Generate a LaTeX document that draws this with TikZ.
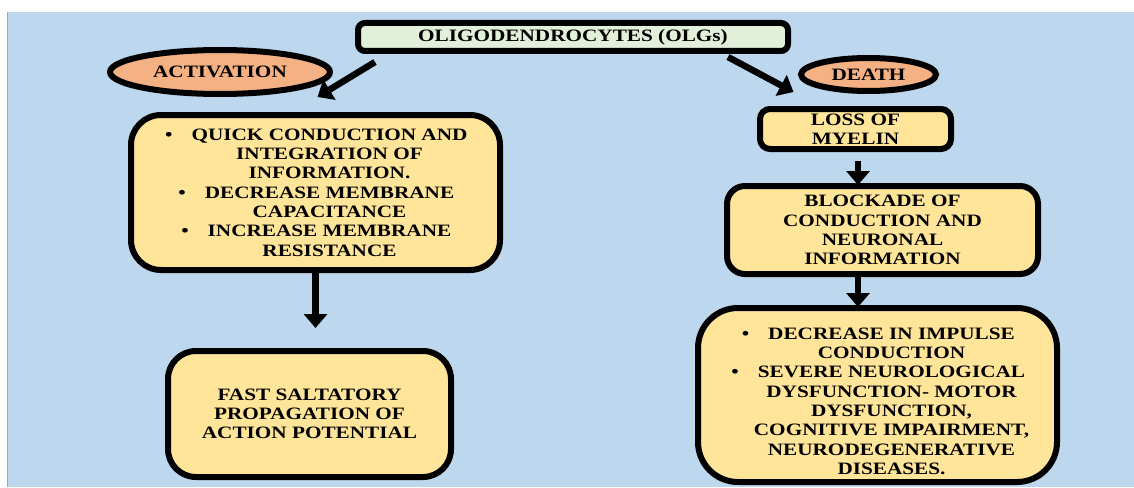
\documentclass[tikz,border=0pt]{standalone}
\usepackage{fontspec}
\setmainfont{Liberation Serif}[FakeStretch=1.22]
\usetikzlibrary{arrows.meta,shapes.geometric,calc}
\definecolor{bgblue}{HTML}{BDD7EE}
\definecolor{boxyellow}{HTML}{FFE599}
\definecolor{titlegreen}{HTML}{E2EFD9}
\definecolor{ovalorange}{HTML}{F4B183}
\newcommand{\ind}{\hspace*{28pt}}
\newcommand{\bul}{\hspace*{28pt}\llap{•\hspace{19pt}}}
\tikzset{
  every node/.style={font=\bfseries\fontsize{17.4}{19.3}\selectfont, align=center, inner sep=0pt},
  frame/.style={draw=black, line width=6pt},
  ybox/.style={frame, fill=boxyellow, rectangle},
  oval/.style={frame, fill=ovalorange, ellipse},
  arr/.style={line width=6.5pt, -{Triangle[width=23pt,length=14pt]}},
}
\begin{document}
\begin{tikzpicture}[x=1pt,y=-1pt]
\useasboundingbox (0,0) rectangle (1134,487);
\fill[white] (0,0) rectangle (1134,487);
\fill[bgblue] (7,12) rectangle (1134,487);
\draw[gray!70, line width=1pt] (7,12) -- (7,487);

\node[frame, fill=titlegreen, rounded corners=7pt, minimum width=430pt, minimum height=28pt] (title) at (573,37) {OLIGODENDROCYTES (OLGs)};
\node[oval, minimum width=220pt, minimum height=44pt] (act) at (220,72) {ACTIVATION};
\node[oval, minimum width=135pt, minimum height=33pt] (death) at (868.5,74.5) {DEATH};

\node[ybox, rounded corners=30pt, minimum width=369pt, minimum height=155pt] (lt) at (315.5,192.5)
  {\bul QUICK CONDUCTION AND\\ \ind INTEGRATION OF\\ \ind INFORMATION.\\ \bul DECREASE MEMBRANE\\ \ind CAPACITANCE\\ \bul INCREASE MEMBRANE\\ \ind RESISTANCE};
\node[ybox, rounded corners=28pt, minimum width=283pt, minimum height=126pt] (bl) at (309.5,414)
  {FAST SALTATORY\\ PROPAGATION OF\\ ACTION POTENTIAL};

\node[ybox, rounded corners=10pt, minimum width=191pt, minimum height=40pt] (loss) at (855.5,129)
  {LOSS OF\\ MYELIN};
\node[ybox, rounded corners=18pt, minimum width=311pt, minimum height=88pt] (block) at (882.5,230)
  {BLOCKADE OF\\ CONDUCTION AND\\ NEURONAL\\ INFORMATION};
\node[ybox, rounded corners=40pt, minimum width=359pt, minimum height=174pt] (br) at (877.5,395)
  {\rule{0pt}{24pt}\bul DECREASE IN IMPULSE\\ \ind CONDUCTION\\ \bul SEVERE NEUROLOGICAL\\ \ind DYSFUNCTION- MOTOR\\ \ind DYSFUNCTION,\\ \ind COGNITIVE IMPAIRMENT,\\ \ind NEURODEGENERATIVE\\ \ind DISEASES.};

\draw[arr] ($(title.south west)+(20,8)$) -- ($(lt.north)+(2,-15)$);
\draw[arr] ($(title.south east)+(-63,3)$) -- ($(loss.north)+(-62,-14)$);
\draw[arr, shorten >=20pt] (lt.south) -- (lt.south |- bl.north);
\draw[arr, shorten <=9pt, shorten >=-2pt] ([xshift=2.5pt]loss.south) -- ([xshift=2.5pt]loss.south |- block.north);
\draw[arr, shorten >=-2pt] ([xshift=-24.5pt]block.south) -- ([xshift=-24.5pt]block.south |- br.north);
\end{tikzpicture}
\end{document}
